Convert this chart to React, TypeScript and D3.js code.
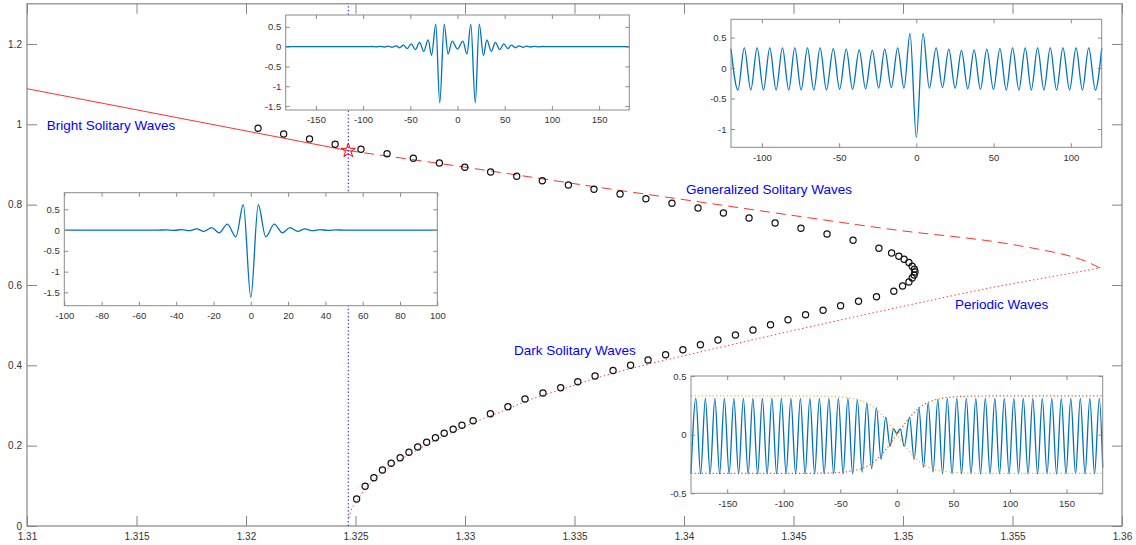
import React, { useRef, useEffect } from 'react';
import * as d3 from 'd3';

const W = 1136;
const H = 545;
const FONT = '"Liberation Sans", Arial, Helvetica, sans-serif';

// ---- main diagram: ticks
const mainXTicks = [1.31, 1.315, 1.32, 1.325, 1.33, 1.335, 1.34, 1.345, 1.35, 1.355, 1.36];
const mainXLabels = ['1.31', '1.315', '1.32', '1.325', '1.33', '1.335', '1.34', '1.345', '1.35', '1.355', '1.36'];
const mainYTicks = [0, 0.2, 0.4, 0.6, 0.8, 1, 1.2];
const mainYLabels = ['0', '0.2', '0.4', '0.6', '0.8', '1', '1.2'];

// computed solutions (open circles)
const circleX = [
  1.32055, 1.32172, 1.3229, 1.32407, 1.32525, 1.32644, 1.32764, 1.32883, 1.32999, 1.33117,
  1.33236, 1.33353, 1.33472, 1.33589, 1.33708, 1.33826, 1.33945, 1.34064, 1.3418, 1.34297,
  1.34416, 1.34534, 1.34653, 1.34772, 1.3489, 1.34948, 1.34981, 1.35005, 1.35027, 1.35042,
  1.35052, 1.35055, 1.35051, 1.35042, 1.35027, 1.34998, 1.34958, 1.34879, 1.34797, 1.34715,
  1.34635, 1.34555, 1.34475, 1.34395, 1.34315, 1.34235, 1.34155, 1.34075, 1.33995, 1.33916,
  1.33836, 1.33756, 1.33676, 1.33594, 1.33515, 1.33437, 1.33356, 1.33274, 1.33196, 1.33116,
  1.33037, 1.32986, 1.32946, 1.32905, 1.32865, 1.32825, 1.32784, 1.32744, 1.32704, 1.32663,
  1.32623, 1.32584, 1.32544, 1.32505,
];
const circleY = [
  0.99, 0.9759, 0.9637, 0.9502, 0.9378, 0.9268, 0.9154, 0.9037, 0.893, 0.8813,
  0.8706, 0.8596, 0.8489, 0.8382, 0.8265, 0.8148, 0.8033, 0.7916, 0.7792, 0.7667,
  0.7543, 0.7411, 0.7269, 0.7115, 0.6913, 0.6796, 0.6714, 0.6639, 0.656, 0.6467,
  0.639, 0.6323, 0.6248, 0.6174, 0.6074, 0.5975, 0.5843, 0.5708, 0.5594, 0.5484,
  0.537, 0.526, 0.5136, 0.5011, 0.4879, 0.4755, 0.463, 0.4513, 0.4389, 0.4264,
  0.4132, 0.4003, 0.3871, 0.3734, 0.3592, 0.3443, 0.3311, 0.3162, 0.297, 0.2796,
  0.2621, 0.2507, 0.2407, 0.2308, 0.2198, 0.2084, 0.1967, 0.1835, 0.17, 0.1561,
  0.1394, 0.1202, 0.0988, 0.0672,
];

// bright branch (solid), generalized branch (dashed), periodic branch (dotted)
const solidX = [1.31, 1.32467];
const solidY = [1.0886, 0.9345];
const dashedX = [1.32467, 1.32932, 1.33616, 1.34073, 1.3453, 1.34986, 1.35443, 1.35626, 1.35744, 1.35831, 1.359];
const dashedY = [0.9345, 0.8987, 0.8427, 0.8066, 0.7705, 0.7356, 0.7057, 0.6883, 0.6746, 0.6597, 0.6423];
const dottedX = [
  1.3247, 1.32479, 1.32491, 1.32505, 1.32521, 1.32543, 1.32584, 1.32623, 1.32663, 1.32703,
  1.32785, 1.32865, 1.32945, 1.33037, 1.33114, 1.33196, 1.33274, 1.33434, 1.33594, 1.33776,
  1.34073, 1.3453, 1.34986, 1.35443, 1.35671, 1.359,
];
const dottedY = [
  0.0199, 0.0373, 0.051, 0.061, 0.0747, 0.0921, 0.1145, 0.1332, 0.1494, 0.1643,
  0.1904, 0.2141, 0.234, 0.2564, 0.2738, 0.2913, 0.3099, 0.3386, 0.3672, 0.3946,
  0.4332, 0.4904, 0.5452, 0.5975, 0.6199, 0.6423,
];
const markC = 1.32467;
const starY = 0.9345;

const annoText = ['Bright Solitary Waves', 'Generalized Solitary Waves', 'Periodic Waves', 'Dark Solitary Waves'];
const annoX = [1.3109, 1.34009, 1.35237, 1.33224];
const annoY = [0.9983, 0.8389, 0.5527, 0.4381];

// ---- inset at the marked speed (top middle)
const insetStarX = [
  -182, -95, -90.5, -86.2, -82.0, -77.6, -73.3, -69.4, -65.1, -61.5, -57.2, -53.3, -49.0, -44.7, -40.1, -35.8,
  -31.1, -27.5, -23.0, -18.8, -14.1, -10.0, -5.7, 0, 5.7, 10.0, 14.1, 18.8, 23.0, 27.5, 31.1, 35.8, 40.1,
  44.7, 49.0, 53.3, 57.2, 61.5, 65.1, 69.4, 73.3, 77.6, 82.0, 86.2, 90.5, 95, 182,
];
const insetStarY = [
  0, 0, 0.004, -0.005, 0.007, -0.009, 0.012, -0.016, 0.022, -0.028, 0.038, -0.048, 0.07, -0.075, 0.11, -0.12,
  0.17, -0.22, 0.57, -1.42, 0.57, -0.19, 0.14, -0.06, 0.14, -0.19, 0.57, -1.42, 0.57, -0.22, 0.17, -0.12, 0.11,
  -0.075, 0.07, -0.048, 0.038, -0.028, 0.022, -0.016, 0.012, -0.009, 0.007, -0.005, 0.004, 0, 0,
];
const insetStarXTicks = [-150, -100, -50, 0, 50, 100, 150];
const insetStarYTicks = [-1.5, -1, -0.5, 0, 0.5];

// ---- generalized solitary wave (top right)
const insetGenX = [
  -120, -115.5, -111.4, -107.2, -103.1, -99.0, -94.9, -90.8, -86.7, -82.6,
  -78.7, -74.6, -70.5, -66.4, -62.3, -58.2, -53.8, -49.7, -45.4, -41.3,
  -37.0, -32.9, -28.5, -24.4, -20.5, -16.2, -12.1, -8.0, -4.1, 0,
  4.3, 8.4, 12.8, 16.9, 21.0, 25.1, 29.2, 33.3, 37.4, 41.5,
  45.6, 49.9, 54.1, 58.2, 62.3, 66.4, 70.5, 74.4, 78.5, 82.6,
  86.7, 90.8, 94.9, 99.2, 103.4, 107.5, 111.6, 115.9, 120,
];
const insetGenY = [
  0.32, -0.36, 0.33, -0.36, 0.33, -0.36, 0.33, -0.36, 0.33, -0.36,
  0.33, -0.36, 0.33, -0.36, 0.33, -0.36, 0.32, -0.35, 0.31, -0.35,
  0.3, -0.34, 0.29, -0.33, 0.31, -0.32, 0.33, -0.33, 0.57, -1.14,
  0.57, -0.33, 0.33, -0.32, 0.31, -0.33, 0.29, -0.34, 0.3, -0.35,
  0.31, -0.35, 0.32, -0.36, 0.33, -0.36, 0.33, -0.36, 0.33, -0.36,
  0.33, -0.36, 0.33, -0.36, 0.33, -0.36, 0.33, -0.36, 0.33,
];
const insetGenXTicks = [-100, -50, 0, 50, 100];
const insetGenYTicks = [-1, -0.5, 0, 0.5];

// ---- bright solitary wave (middle left)
const insetBrightX = [
  -100, -50, -45.4, -41.2, -37.1, -33.2, -29.0, -25.2, -21.0, -16.9, -12.6, -8.0, -4.0, 0,
  4.0, 8.0, 12.6, 16.9, 21.0, 25.2, 29.0, 33.2, 37.1, 41.2, 45.4, 50, 100,
];
const insetBrightY = [
  0, 0, 0.005, -0.008, 0.012, -0.015, 0.03, -0.03, 0.06, -0.065, 0.145, -0.16, 0.61, -1.62,
  0.61, -0.16, 0.145, -0.065, 0.06, -0.03, 0.03, -0.015, 0.012, -0.008, 0.005, 0, 0,
];
const insetBrightXTicks = [-100, -80, -60, -40, -20, 0, 20, 40, 60, 80, 100];
const insetBrightYTicks = [-1.5, -1, -0.5, 0, 0.5];

// ---- dark solitary wave (bottom right)
const insetDarkX = [
  -182,
  -177.7, -173.5, -169.3, -165.1, -160.9, -156.7, -152.5, -148.3, -144.1, -139.9,
  -135.7, -131.5, -127.3, -123.1, -118.9, -114.7, -110.5, -106.3, -102.1, -97.9,
  -93.7, -89.5, -85.3, -81.1, -76.9, -72.7, -68.5, -64.3, -60.1, -55.9,
  -51.7, -47.5, -43.3, -39.1, -34.9, -30.7, -26.5, -22.3, -18.1, -14.0,
  -9.8, -6.0, -2.9, 0, 2.9,
  6.5, 11.2, 15.3, 19.5, 23.6, 27.7, 32.0, 36.2, 40.4, 44.6,
  48.8, 53.0, 57.2, 61.4, 65.6, 69.8, 74.0, 78.2, 82.4, 86.6,
  90.8, 95.0, 99.2, 103.4, 107.6, 111.8, 116.0, 120.2, 124.4, 128.6,
  132.8, 137.0, 141.2, 145.4, 149.6, 153.8, 158.0, 162.2, 166.4, 170.6,
  174.8, 179.0, 182,
];
const insetDarkY = [
  -0.33,
  0.31, -0.335, 0.31, -0.335, 0.31, -0.335, 0.31, -0.335, 0.31, -0.335,
  0.31, -0.335, 0.31, -0.335, 0.31, -0.335, 0.31, -0.335, 0.31, -0.335,
  0.31, -0.335, 0.31, -0.335, 0.31, -0.335, 0.31, -0.335, 0.31, -0.335,
  0.31, -0.335, 0.31, -0.335, 0.3, -0.32, 0.27, -0.29, 0.23, -0.21,
  0.15, -0.1, 0.05, 0.01, 0.05,
  -0.1, 0.15, -0.21, 0.23, -0.28, 0.27, -0.32, 0.3, -0.335, 0.31,
  -0.335, 0.31, -0.335, 0.31, -0.335, 0.31, -0.335, 0.31, -0.335, 0.31,
  -0.335, 0.31, -0.335, 0.31, -0.335, 0.31, -0.335, 0.31, -0.335, 0.31,
  -0.335, 0.31, -0.335, 0.31, -0.335, 0.31, -0.335, 0.31, -0.335, 0.31,
  -0.335, 0.31, -0.28,
];
const darkEnvX = [-182, -90, -70, -60, -50, -40, -30, -20, -10, 0, 10, 20, 30, 40, 50, 60, 70, 90, 182];
const darkEnvUpY = [0.33, 0.33, 0.329, 0.327, 0.322, 0.31, 0.285, 0.23, 0.13, 0, -0.13, -0.23, -0.285, -0.31, -0.322, -0.327, -0.329, -0.33, -0.33];
const darkEnvLoY = [-0.33, -0.33, -0.329, -0.327, -0.322, -0.31, -0.285, -0.23, -0.13, 0, 0.13, 0.23, 0.285, 0.31, 0.322, 0.327, 0.329, 0.33, 0.33];
const insetDarkXTicks = [-150, -100, -50, 0, 50, 100, 150];
const insetDarkYTicks = [-0.5, 0, 0.5];

const pts = (xs: number[], ys: number[]): [number, number][] =>
  xs.slice(0, Math.min(xs.length, ys.length)).map((v, i) => [v, ys[i]]);

const styleAxis = (g: any, color: string, size: number) => {
  g.attr('color', color);
  g.select('.domain').remove();
  g.selectAll('text').attr('fill', '#333').style('font-size', `${size}px`).style('font-family', FONT);
};

function drawInset(svg: any, box: number[], xDom: number[], yDom: number[], xTicks: number[], yTicks: number[], series: any[]) {
  const [x0, y0, x1, y1] = box;
  const sx = d3.scaleLinear().domain(xDom).range([x0, x1]);
  const sy = d3.scaleLinear().domain(yDom).range([y1, y0]);
  const g = svg.append('g');

  g.append('rect')
    .attr('x', x0).attr('y', y0)
    .attr('width', x1 - x0).attr('height', y1 - y0)
    .attr('fill', '#fff');

  const line = d3.line<[number, number]>()
    .x(d => sx(d[0]))
    .y(d => sy(d[1]))
    .curve(d3.curveMonotoneX);

  series.forEach(s => {
    g.append('path')
      .datum(pts(s.x, s.y))
      .attr('fill', 'none')
      .attr('stroke', s.color)
      .attr('stroke-width', s.width)
      .attr('stroke-dasharray', s.dash || null)
      .attr('d', line);
  });

  const fmt = (d: any) => String(d);
  const ax = '#8a8a8a';
  g.append('g').attr('transform', `translate(0,${y1})`)
    .call(d3.axisBottom(sx).tickValues(xTicks).tickFormat(fmt).tickSizeInner(-4).tickSizeOuter(0).tickPadding(6.5))
    .call((a: any) => styleAxis(a, ax, 9.5));
  g.append('g').attr('transform', `translate(0,${y0})`)
    .call(d3.axisTop(sx).tickValues(xTicks).tickFormat(() => '').tickSizeInner(-4).tickSizeOuter(0))
    .call((a: any) => styleAxis(a, ax, 9.5));
  g.append('g').attr('transform', `translate(${x0},0)`)
    .call(d3.axisLeft(sy).tickValues(yTicks).tickFormat(fmt).tickSizeInner(-4).tickSizeOuter(0).tickPadding(4.5))
    .call((a: any) => styleAxis(a, ax, 9.5));
  g.append('g').attr('transform', `translate(${x1},0)`)
    .call(d3.axisRight(sy).tickValues(yTicks).tickFormat(() => '').tickSizeInner(-4).tickSizeOuter(0))
    .call((a: any) => styleAxis(a, ax, 9.5));

  g.append('rect')
    .attr('x', x0).attr('y', y0)
    .attr('width', x1 - x0).attr('height', y1 - y0)
    .attr('fill', 'none')
    .attr('stroke', ax)
    .attr('stroke-width', 1);
}

const Diagram = () => {
  const ref = useRef<SVGSVGElement>(null);

  useEffect(() => {
    if (!ref.current) return;
    const svg = d3.select(ref.current);
    svg.selectAll('*').remove();

    const left = 27, right = 1122, top = 3.8, bottom = 526;
    const x = d3.scaleLinear().domain([1.31, 1.36]).range([left, right]);
    const y = d3.scaleLinear().domain([0, 1.3]).range([bottom, top]);

    svg.append('rect').attr('width', W).attr('height', H).attr('fill', '#fff');

    // main axes, MATLAB style inward ticks and box
    const ax = '#858585';
    svg.append('g').attr('transform', `translate(0,${bottom})`)
      .call(d3.axisBottom(x).tickValues(mainXTicks).tickFormat((d: any, i: number) => mainXLabels[i]).tickSizeInner(-10).tickSizeOuter(0).tickPadding(6.5))
      .call((a: any) => styleAxis(a, ax, 10));
    svg.append('g').attr('transform', `translate(0,${top})`)
      .call(d3.axisTop(x).tickValues(mainXTicks).tickFormat(() => '').tickSizeInner(-10).tickSizeOuter(0))
      .call((a: any) => styleAxis(a, ax, 10));
    svg.append('g').attr('transform', `translate(${left},0)`)
      .call(d3.axisLeft(y).tickValues(mainYTicks).tickFormat((d: any, i: number) => mainYLabels[i]).tickSizeInner(-10).tickSizeOuter(0).tickPadding(5))
      .call((a: any) => styleAxis(a, ax, 10));
    svg.append('g').attr('transform', `translate(${right},0)`)
      .call(d3.axisRight(y).tickValues(mainYTicks).tickFormat(() => '').tickSizeInner(-10).tickSizeOuter(0))
      .call((a: any) => styleAxis(a, ax, 10));
    svg.append('rect')
      .attr('x', left).attr('y', top)
      .attr('width', right - left).attr('height', bottom - top)
      .attr('fill', 'none').attr('stroke', ax).attr('stroke-width', 1.2);

    const line = d3.line<[number, number]>()
      .x(d => x(d[0]))
      .y(d => y(d[1]))
      .curve(d3.curveMonotoneX);

    svg.append('path').datum(pts(solidX, solidY))
      .attr('fill', 'none').attr('stroke', '#ff3030').attr('stroke-width', 1)
      .attr('d', line);
    svg.append('path').datum(pts(dashedX, dashedY))
      .attr('fill', 'none').attr('stroke', '#ff3030').attr('stroke-width', 1)
      .attr('stroke-dasharray', '10,6')
      .attr('d', line);
    svg.append('path').datum(pts(dottedX, dottedY))
      .attr('fill', 'none').attr('stroke', '#ff4040').attr('stroke-width', 1)
      .attr('stroke-dasharray', '1.5,2.5')
      .attr('d', line);

    // marked speed
    svg.append('line')
      .attr('x1', x(markC)).attr('x2', x(markC))
      .attr('y1', y(0)).attr('y2', y(1.3))
      .attr('stroke', '#0000ff').attr('stroke-width', 1)
      .attr('stroke-dasharray', '1.3,2.3');

    svg.append('g').selectAll('circle')
      .data(pts(circleX, circleY))
      .join('circle')
      .attr('cx', d => x(d[0]))
      .attr('cy', d => y(d[1]))
      .attr('r', 3.1)
      .attr('fill', 'none')
      .attr('stroke', '#111')
      .attr('stroke-width', 1.2);

    svg.append('path')
      .attr('d', d3.symbol(d3.symbolStar, 62)() as string)
      .attr('transform', `translate(${x(markC)},${y(starY)})`)
      .attr('fill', 'none').attr('stroke', '#ff0000').attr('stroke-width', 1);

    svg.append('g').selectAll('text')
      .data(annoText)
      .join('text')
      .attr('x', (d, i) => x(annoX[i]))
      .attr('y', (d, i) => y(annoY[i]))
      .attr('dy', '0.35em')
      .attr('fill', '#0000ff')
      .style('font-family', FONT)
      .style('font-size', '13.5px')
      .text(d => d);

    // insets
    const blue = '#0072BD';
    drawInset(svg, [285.7, 15, 629.3, 110], [-182, 182], [-1.6, 0.8], insetStarXTicks, insetStarYTicks, [
      { x: insetStarX, y: insetStarY, color: blue, width: 1.3 },
    ]);
    drawInset(svg, [731, 19.3, 1101.7, 147.3], [-120, 120], [-1.3, 0.8], insetGenXTicks, insetGenYTicks, [
      { x: insetGenX, y: insetGenY, color: blue, width: 1.3 },
    ]);
    drawInset(svg, [64.3, 192.7, 437.3, 305.7], [-100, 100], [-1.82, 0.9], insetBrightXTicks, insetBrightYTicks, [
      { x: insetBrightX, y: insetBrightY, color: blue, width: 1.3 },
    ]);
    drawInset(svg, [691, 376, 1102.7, 493.3], [-182, 182], [-0.5, 0.5], insetDarkXTicks, insetDarkYTicks, [
      { x: insetDarkX, y: insetDarkY, color: blue, width: 1.3 },
      { x: darkEnvX, y: darkEnvUpY, color: '#EDB120', width: 1.2, dash: '1.2,2.4' },
      { x: darkEnvX, y: darkEnvLoY, color: '#D95319', width: 1.2, dash: '1.2,2.4' },
    ]);
  }, []);

  return (
    <svg
      ref={ref}
      width={W}
      height={H}
      style={{ position: 'absolute', left: 0, top: 0, display: 'block' }}
    />
  );
};

export default function App() {
  return <Diagram />;
}
